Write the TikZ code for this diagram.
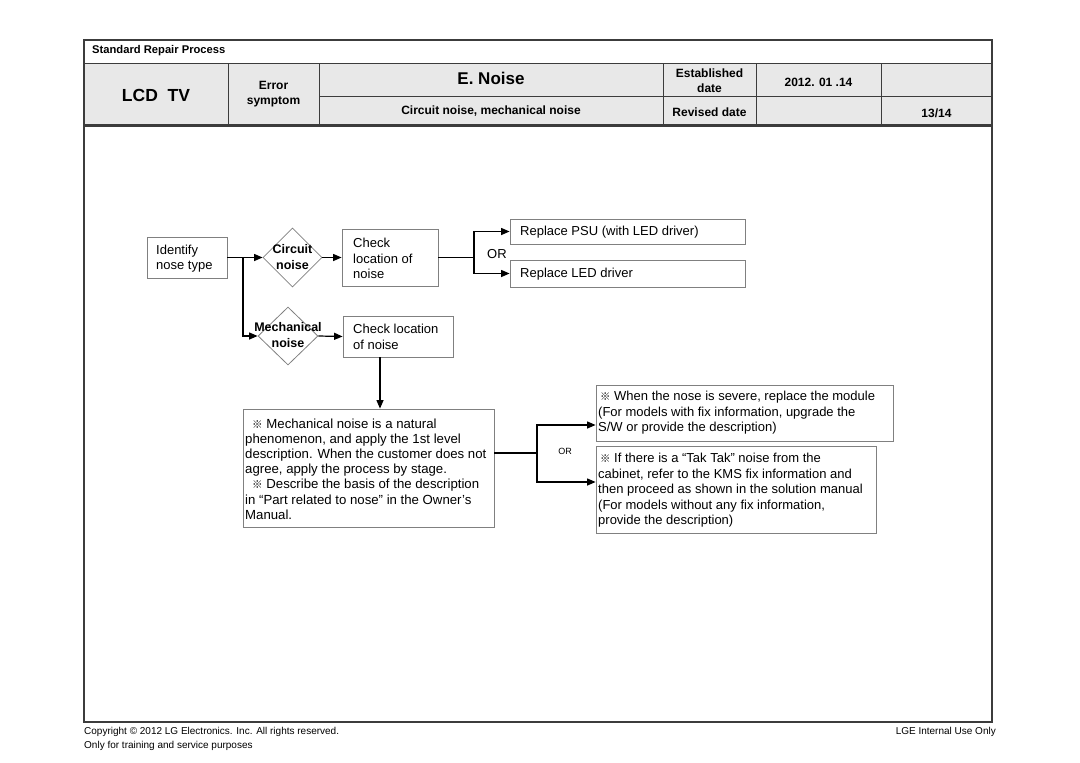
\documentclass[tikz,border=0pt]{standalone}
\usepackage{fontspec}
\setmainfont{Liberation Sans}
\newfontfamily\cjk{Noto Sans CJK SC}
\usetikzlibrary{shapes.geometric,arrows.meta,calc}
\definecolor{framec}{HTML}{3C3C3C}
\definecolor{boxgray}{HTML}{808080}
\definecolor{headfill}{HTML}{E8E8E8}
\newcommand{\refmk}{{\cjk\scalebox{0.8}{※}}}
\begin{document}
\begin{tikzpicture}[x=1pt,y=-1pt,
  frame/.style={draw=framec,line width=1.4pt},
  sep/.style={draw=framec,line width=0.9pt},
  box/.style={draw=boxgray,line width=0.8pt,rectangle,inner sep=0pt},
  dia/.style={diamond,draw=boxgray,line width=0.8pt,inner sep=0pt},
  con/.style={line width=1.2pt},
  arr/.style={line width=1.2pt,-{Triangle[length=8.5pt,width=7pt]}},
  txt/.style={font=\fontsize{13}{15.5}\selectfont,align=left,inner sep=0pt,anchor=west},
  hb/.style={font=\fontsize{12}{15}\selectfont\bfseries,align=center,inner sep=0pt},
  dtx/.style={font=\fontsize{12.5}{16}\selectfont\bfseries,align=center,inner sep=0pt},
  foot/.style={font=\fontsize{10}{11}\selectfont,inner sep=0pt}]
\useasboundingbox (0,0) rectangle (1080,763);
% header
\fill[headfill] (84,63) rectangle (992,126);
\draw[frame] (84,40) rectangle (992,722);
\draw[sep] (84,63) -- (992,63);
\draw[framec,line width=2.4pt] (84,125.5) -- (992,125.5);
\draw[sep] (319,96) -- (992,96);
\foreach \xx in {228,319,663,756,881} \draw[sep] (\xx,63) -- (\xx,125);
\node[font=\fontsize{11.2}{13}\selectfont\bfseries,inner sep=0pt,anchor=west] (srp) at (92,51) {Standard Repair Process};
\node[font=\fontsize{17.5}{20}\selectfont\bfseries,inner sep=0pt] (lcd) at (156,95) {LCD\ \ TV};
\node[hb] (err) at (273.5,94.5) {Error\\symptom};
\node[font=\fontsize{17}{20}\selectfont\bfseries,inner sep=0pt] (title) at (491,78.5) {E. Noise};
\node[hb] (sub) at (491,111) {Circuit noise, mechanical noise};
\node[hb] (est) at (709.5,81) {Established\\date};
\node[hb] (dt) at (818.5,82) {2012. 01 .14};
\node[hb] (rev) at (709.5,112) {Revised date};
\node[hb] (pg) at (936.5,113) {13/14};
% footer
\node[foot,anchor=west] (cp) at (84,732) {Copyright © 2012 LG Electronics. Inc. All rights reserved.};
\node[foot,anchor=west] (tr) at (84,746) {Only for training and service purposes};
\node[foot,anchor=east] (lge) at (996,732) {LGE Internal Use Only};
% flow nodes
\node[box,minimum width=80pt,minimum height=41pt] (idf) at (187,257.5) {};
\node[txt] (idft) at (156,258.5) {Identify\\nose type};
\node[dia,minimum width=59pt,minimum height=59pt] (dc) at (292.5,257.5) {};
\node[dtx] (dct) at (292.5,257.5) {Circuit\\noise};
\node[dia,minimum width=60pt,minimum height=58pt] (dm) at (288,336) {};
\node[dtx] (dmt) at (288,335) {Mechanical\\noise};
\node[box,minimum width=96pt,minimum height=57pt] (ck1) at (390,257.5) {};
\node[txt] (ck1t) at (353,258.5) {Check\\location of\\noise};
\node[box,minimum width=110pt,minimum height=41pt] (ck2) at (398,336.5) {};
\node[txt] (ck2t) at (353,337) {Check location\\of noise};
\node[box,minimum width=235pt,minimum height=25pt] (psu) at (627.5,231.5) {};
\node[txt] (psut) at (520,232) {Replace PSU (with LED driver)};
\node[box,minimum width=235pt,minimum height=27pt] (led) at (627.5,273.5) {};
\node[txt] (ledt) at (520,274) {Replace LED driver};
\node[txt] (or1) at (487,254) {OR};
\node[box,minimum width=251pt,minimum height=118pt] (big) at (368.5,468) {};
\node[txt,font=\fontsize{13.2}{15.2}\selectfont] (bigt) at (245,469) {\hspace{7pt}\refmk\ Mechanical noise is a natural\\phenomenon, and apply the 1st level\\description. When the customer does not\\agree, apply the process by stage.\\\hspace{7pt}\refmk\ Describe the basis of the description\\in “Part related to nose” in the Owner’s\\Manual.};
\node[box,minimum width=297pt,minimum height=56pt] (r1) at (744.5,413) {};
\node[txt] (r1t) at (598,413) {\hspace{2pt}\refmk\ When the nose is severe, replace the module\\(For models with fix information, upgrade the\\S/W or provide the description)};
\node[box,minimum width=280pt,minimum height=87pt] (r2) at (736,489.5) {};
\node[txt] (r2t) at (598,490.5) {\hspace{2pt}\refmk\ If there is a “Tak Tak” noise from the\\cabinet, refer to the KMS fix information and\\then proceed as shown in the solution manual\\(For models without any fix information,\\provide the description)};
\node[font=\fontsize{9}{10}\selectfont,inner sep=0pt] (or2) at (565,451) {OR};
% connectors
\coordinate (j1) at (243,257.5);
\draw[arr] (idf.east) -- (dc.west);
\draw[arr] (j1) |- (dm.west);
\draw[arr] (dc.east) -- (ck1.west);
\draw[arr] (dm.east) -- (ck2.west);
\coordinate (j2) at (474,257.5);
\draw[con] (ck1.east) -- (j2);
\draw[arr] (j2) |- (psu.west);
\draw[arr] (j2) |- (led.west);
\draw[arr] ([xshift=-18pt]ck2.south) -- ([xshift=-18pt]ck2.south |- big.north);
\coordinate (j4) at (537,453);
\coordinate (a1) at (537,425);
\coordinate (a2) at (537,482);
\draw[con] (big.east |- j4) -- (j4);
\draw[arr] (j4) -- (a1) -- (a1 -| r1.west);
\draw[arr] (j4) -- (a2) -- (a2 -| r2.west);
\end{tikzpicture}
\end{document}
